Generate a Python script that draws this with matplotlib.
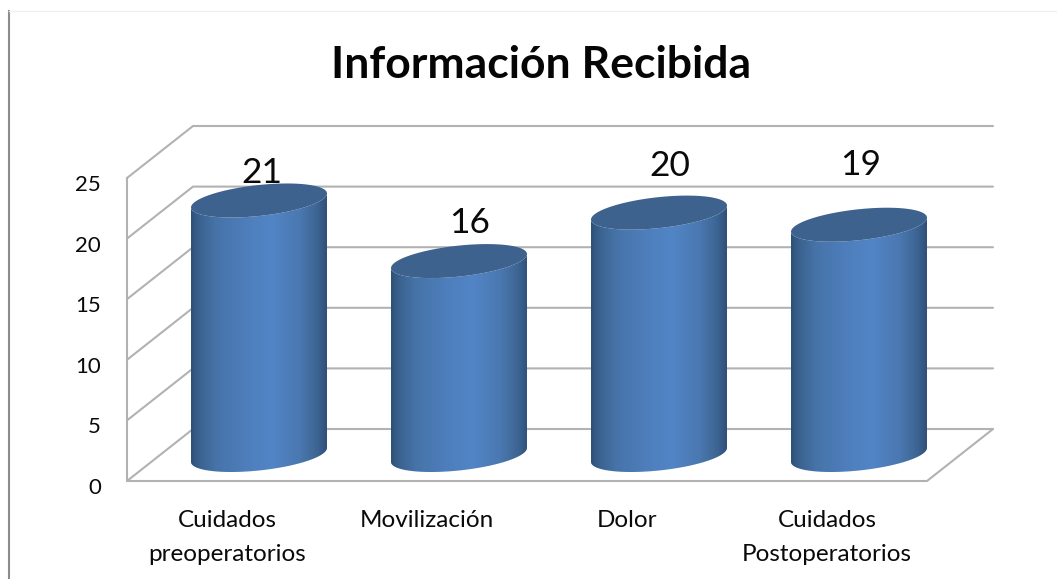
import numpy as np
import matplotlib
matplotlib.use("Agg")
import matplotlib.pyplot as plt
from matplotlib.colors import LinearSegmentedColormap
from matplotlib.patches import Polygon

categories = ["Cuidados\npreoperatorios", "Movilización", "Dolor", "Cuidados\nPostoperatorios"]
values = [21, 16, 20, 19]
y_ticks = [0, 5, 10, 15, 20, 25]
title = "Información Recibida"

W, H = 1057, 579
plt.rcParams["font.family"] = ["Lato", "DejaVu Sans"]
fig = plt.figure(figsize=(W / 100, H / 100), dpi=100)

# front plane of the 3-D box, in pixels
L, R, B, T = 127, 927, 481, 178
ax = fig.add_axes([L / W, 1 - B / H, (R - L) / W, (B - T) / H])
ax.set_xlim(-0.5, 3.5)
ax.set_ylim(0, 25)
ax.axis("off")

DX = 66 / 200          # depth in category units
DY = 52 / ((B - T) / 25)   # depth in value units
GRID = "#b2b2b2"
lk = dict(color=GRID, lw=1.5, clip_on=False, solid_capstyle="round", zorder=1)

for v in y_ticks:
    ax.plot([-0.5, -0.5 + DX, 3.5 + DX], [v, v + DY, v + DY], **lk)
ax.plot([-0.5, -0.5], [0, 25], **lk)
ax.plot([-0.5, 3.5, 3.5 + DX], [0, 0, DY], **lk)

cmap = LinearSegmentedColormap.from_list("cyl", [
    (0.00, "#2e5078"), (0.06, "#3a628f"), (0.18, "#4673a8"), (0.42, "#4e7fbd"),
    (0.60, "#5285c6"), (0.80, "#4a78b0"), (0.93, "#3d6593"), (1.00, "#2f5079")])
grad = np.linspace(0, 1, 256).reshape(1, -1)

half_w = 68 / 200      # cylinder half width in category units
px_y = (B - T) / 25    # pixels per value unit
shear = 7 / px_y
minor = 15.5 / px_y
t = np.linspace(0, 2 * np.pi, 181)

for i, v in enumerate(values):
    cx = i + DX / 2 - 0.005
    y0 = DY / 2
    ex = cx + half_w * np.cos(t)
    lower = y0 + minor * np.sin(t) + shear * np.cos(t)
    upper = lower + v
    # side of the cylinder: lower half of the bottom ellipse + lower half of the top one
    a = np.arange(90, 181)
    sx = np.r_[ex[a], ex[a][::-1]]
    sy = np.r_[lower[a], upper[a][::-1]]
    im = ax.imshow(grad, extent=[cx - half_w, cx + half_w, y0 - 3, y0 + v + 3],
                   cmap=cmap, aspect="auto", zorder=3, interpolation="bilinear")
    outline = Polygon(np.c_[sx, sy], closed=True, transform=ax.transData,
                      fc="none", ec="none")
    ax.add_patch(outline)
    im.set_clip_path(outline)
    ax.fill(ex, upper, color="#3d628e", lw=0, zorder=4, clip_on=False)

ax.set_xlim(-0.5, 3.5)
ax.set_ylim(0, 25)

TEXT = "#0a0a0a"
for v in y_ticks:
    ax.annotate(str(v), xy=(-0.5, v), xytext=(-26, -7), textcoords="offset pixels",
                ha="right", va="center", fontsize=16, color=TEXT, annotation_clip=False)

for i, c in enumerate(categories):
    ax.annotate(c, xy=(i, 0), xytext=(0, -29),
                textcoords="offset pixels", ha="center", va="top", fontsize=17.5,
                color=TEXT, linespacing=1.75, annotation_clip=False)

label_shift = [(2, 27), (10, 38), (10, 47), (1, 60)]
for i, v in enumerate(values):
    top = v + DY / 2
    ax.annotate(str(v), xy=(i + DX / 2, top), xytext=label_shift[i],
                textcoords="offset pixels", ha="center", va="center",
                fontsize=25.5, color=TEXT, zorder=6, annotation_clip=False)

fig.text(541 / W, 1 - 65 / H, title, ha="center", va="center",
         fontsize=32, fontweight="bold", color="#050505")

# frame lines of the page around the chart
fig.add_artist(plt.Line2D([8.5 / W, 8.5 / W], [0, 1 - 11 / H], color="#8c8c8c", lw=1.5))
fig.add_artist(plt.Line2D([8.5 / W, 1], [1 - 11 / H, 1 - 11 / H], color="#f0f0f0", lw=1))

fig.savefig("out.png", dpi=100)
